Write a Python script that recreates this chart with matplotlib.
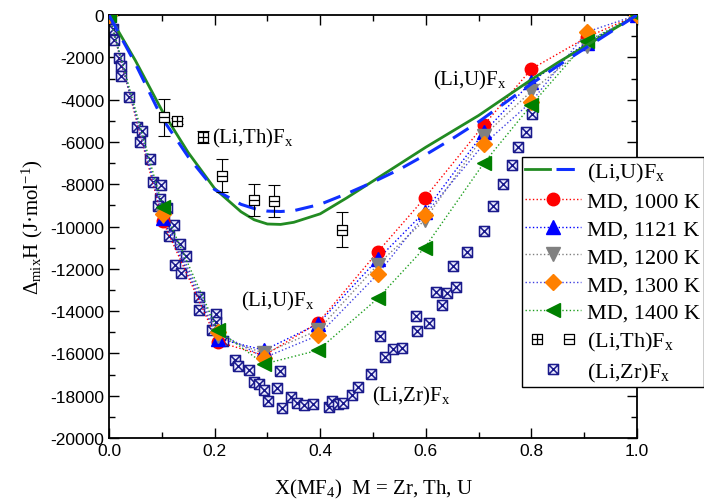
import numpy as np
import matplotlib
matplotlib.use('Agg')
import matplotlib.pyplot as plt
from matplotlib.path import Path
from matplotlib.lines import Line2D
from matplotlib.legend_handler import HandlerTuple

plt.rcParams['axes.unicode_minus'] = False
plt.rcParams['mathtext.fontset'] = 'custom'
plt.rcParams['mathtext.rm'] = 'Liberation Serif'
plt.rcParams['mathtext.it'] = 'Liberation Serif:italic'

# (Li,U)F_x model curves
x_curve = [0, 0.05, 0.1, 0.15, 0.2, 0.25, 0.275, 0.3, 0.325, 0.35, 0.4, 0.45, 0.5,
           0.55, 0.6, 0.65, 0.7, 0.75, 0.8, 0.85, 0.9, 0.95, 1.0]
h_solid = [0, -2150, -4500, -6500, -8200, -9300, -9680, -9880, -9900, -9800, -9400, -8650, -7850,
           -7050, -6250, -5500, -4750, -3900, -3050, -2250, -1500, -750, 0]
h_dashed = [0, -2300, -4850, -6700, -8250, -8950, -9150, -9270, -9290, -9250, -8950, -8450, -7900,
            -7300, -6600, -5850, -5050, -4150, -3250, -2400, -1600, -800, 0]

# MD (Li,U)F_x
x_md = [0, 0.102, 0.206, 0.294, 0.396, 0.509, 0.598, 0.71, 0.80, 0.905, 1.0]
h_1000 = [0, -9750, -15450, -16100, -14550, -11200, -8650, -5200, -2550, -1050, 0]
h_1121 = [0, -9600, -15300, -15850, -14600, -11550, -9300, -5550, -3150, -1300, 0]
h_1200 = [0, -9500, -15200, -16000, -14900, -11800, -9700, -5700, -3600, -1450, 0]
h_1300 = [0, -9400, -15000, -16200, -15150, -12250, -9450, -6100, -4100, -800, 0]
h_1400 = [0, -9100, -14900, -16500, -15850, -13400, -11000, -7000, -4250, -1250, 0]

# (Li,Th)F_x experimental
x_th_a = [0.128, 0.178]
h_th_a = [-5000, -5750]
e_th_a = [150, 280]
x_th_b = [0.105, 0.214, 0.275, 0.313, 0.441]
h_th_b = [-4830, -7600, -8750, -8800, -10150]
e_th_b = [870, 780, 760, 760, 830]

# (Li,Zr)F_x
x_zr = [0.008, 0.009, 0.019, 0.023, 0.023, 0.037, 0.053, 0.062, 0.059, 0.078,
        0.083, 0.098, 0.097, 0.093, 0.11, 0.104, 0.123, 0.114, 0.134, 0.146,
        0.125, 0.136, 0.171, 0.171, 0.203, 0.203, 0.195, 0.216, 0.239, 0.244,
        0.265, 0.324, 0.275, 0.284, 0.318, 0.294, 0.301, 0.345, 0.328, 0.356,
        0.369, 0.386, 0.417, 0.422, 0.434, 0.443, 0.46, 0.472, 0.496, 0.523,
        0.538, 0.555, 0.513, 0.583, 0.606, 0.581, 0.631, 0.619, 0.64, 0.657,
        0.652, 0.678, 0.71, 0.727, 0.746, 0.763, 0.775, 0.79, 0.801, 0.905]
h_zr = [-660, -1180, -2030, -2410, -2880, -3880, -5300, -5480, -6010, -6810,
        -7900, -8040, -8700, -9030, -9130, -9740, -9930, -10450, -10830, -11400,
        -11820, -12200, -13330, -13950, -14140, -14510, -14890, -15410, -16310, -16600,
        -16790, -16830, -17350, -17450, -17640, -17730, -18250, -18060, -18580, -18340,
        -18440, -18390, -18530, -18250, -18390, -18340, -17970, -17590, -16970, -16170,
        -15790, -15740, -15180, -14940, -14560, -14230, -13710, -13100, -13140, -12860,
        -11870, -11200, -10200, -9050, -7990, -7090, -6240, -5530, -4680, -1300]

M, L = Path.MOVETO, Path.LINETO
sq = [(-1, -1), (1, -1), (1, 1), (-1, 1), (-1, -1)]
sq_c = [M, L, L, L, L]
box_plus = Path(sq + [(0, -1), (0, 1), (-1, 0), (1, 0)], sq_c + [M, L, M, L])
box_minus = Path(sq + [(-1, 0), (1, 0)], sq_c + [M, L])
box_times = Path(sq + [(-1, -1), (1, 1), (-1, 1), (1, -1)], sq_c + [M, L, M, L])

serif = 'Liberation Serif'
fig = plt.figure(figsize=(7.04, 5.02), dpi=100)
ax = fig.add_axes([0.1548, 0.1255, 0.75, 0.8425])

zr_style = dict(marker=box_times, ms=7.2, mec='#1a1a8c', mfc='#eeeeff', mew=1.1)
ax.plot(x_zr, h_zr, ls='none', zorder=2, **zr_style)

md = [(h_1000, 'red', 'red', 'o', 9),
      (h_1121, 'blue', 'blue', '^', 10),
      (h_1200, 'gray', 'gray', 'v', 10),
      (h_1300, '#ff8000', '#4040e0', 'D', 8),
      (h_1400, 'green', '#20a020', '<', 10)]
md_handles = []
for h, mc, lc, mk, ms in md:
    ax.plot(x_md, h, ls=':', color=lc, lw=1, zorder=3)
    ax.plot(x_md, h, ls='none', marker=mk, ms=ms, color=mc, zorder=4)
    md_handles.append(Line2D([], [], ls=':', color=lc, lw=1, marker=mk, ms=ms, mfc=mc, mec=mc))

ln_solid, = ax.plot(x_curve, h_solid, color='#228b22', lw=2, zorder=5)
ln_dash, = ax.plot(x_curve, h_dashed, color='#1030ff', lw=2.2, ls=(0, (6, 3.5)), zorder=5)

ax.errorbar(x_th_a, h_th_a, yerr=e_th_a, fmt='none', ecolor='black', elinewidth=0.8, capsize=4, capthick=0.8, zorder=6)
ax.errorbar(x_th_b, h_th_b, yerr=e_th_b, fmt='none', ecolor='black', elinewidth=0.8, capsize=4, capthick=0.8, zorder=6)
ax.plot(x_th_a, h_th_a, ls='none', marker=box_plus, ms=7, mec='black', mfc='white', mew=0.9, zorder=7)
ax.plot(x_th_b, h_th_b, ls='none', marker=box_minus, ms=7, mec='black', mfc='white', mew=0.9, zorder=7)

ax.set_xlim(0, 1)
ax.set_ylim(-20000, 0)
ax.set_xticks(np.arange(0, 1.01, 0.2))
ax.set_xticks(np.arange(0.1, 1.0, 0.2), minor=True)
ax.set_yticks(np.arange(-20000, 1, 2000))
ax.set_yticks(np.arange(-19000, 0, 2000), minor=True)
ax.tick_params(which='both', direction='in', top=True, right=True, labelsize=12.5, width=1)
ax.tick_params(which='major', length=7)
ax.tick_params(which='minor', length=4)
for lab in ax.get_xticklabels() + ax.get_yticklabels():
    lab.set_family('Liberation Sans')
for s in ax.spines.values():
    s.set_linewidth(1.3)

ax.set_xlabel(r'X(MF$_4$)  M = Zr, Th, U', family=serif, fontsize=15, labelpad=14)
ax.set_ylabel(r'$\Delta_\mathrm{mix}$H (J·mol$^{-1}$)', family=serif, fontsize=15, labelpad=4)

ax.text(0.613, -3050, r'(Li,U)F$_\mathrm{x}$', family=serif, fontsize=15, va='center')
ax.text(0.195, -5800, r'(Li,Th)F$_\mathrm{x}$', family=serif, fontsize=15, va='center')
ax.text(0.25, -13500, r'(Li,U)F$_\mathrm{x}$', family=serif, fontsize=15, va='center')
ax.text(0.498, -18000, r'(Li,Zr)F$_\mathrm{x}$', family=serif, fontsize=15, va='center')

th_a_h = Line2D([], [], ls='none', marker=box_plus, ms=7, mec='black', mfc='white', mew=0.9)
th_b_h = Line2D([], [], ls='none', marker=box_minus, ms=7, mec='black', mfc='white', mew=0.9)
zr_h = Line2D([], [], ls='none', **zr_style)
handles = [(ln_solid, ln_dash)] + md_handles + [(th_a_h, th_b_h), zr_h]
labels = [r'(Li,U)F$_\mathrm{x}$', 'MD, 1000 K', 'MD, 1121 K', 'MD, 1200 K',
          'MD, 1300 K', 'MD, 1400 K', r'(Li,Th)F$_\mathrm{x}$', r'(Li,Zr)F$_\mathrm{x}$']
leg = ax.legend(handles, labels, loc='upper left', bbox_to_anchor=(0.782, 0.664),
                borderaxespad=0, prop={'family': serif, 'size': 16}, handlelength=2.5,
                handletextpad=0.3, labelspacing=0.33, borderpad=0.15, fancybox=False,
                framealpha=1, edgecolor='black', numpoints=1,
                handler_map={tuple: HandlerTuple(ndivide=None, pad=0.3)})
leg.get_frame().set_linewidth(1)

fig.savefig('out.png', dpi=100)
